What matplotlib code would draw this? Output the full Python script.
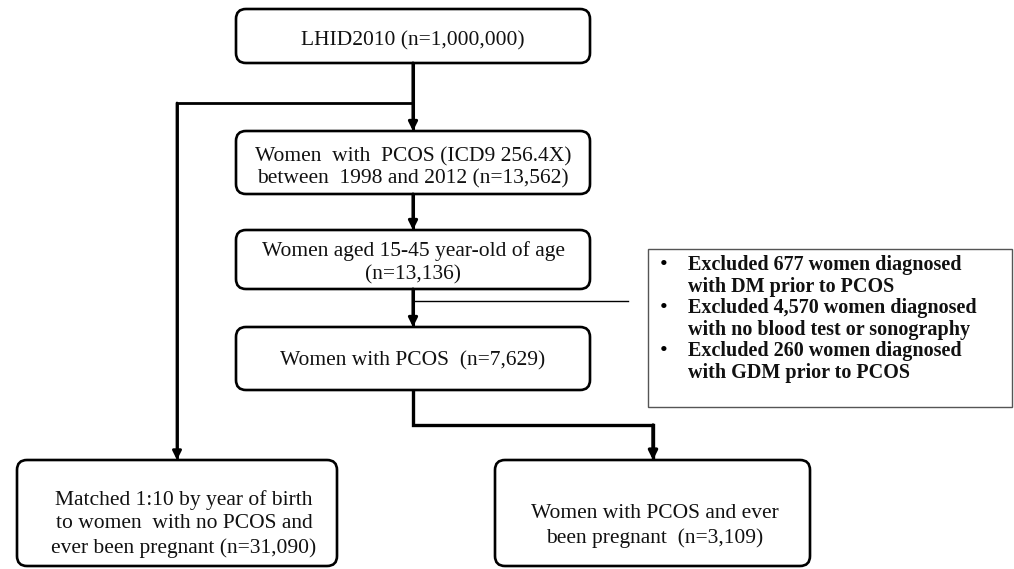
import matplotlib.pyplot as plt
from matplotlib.patches import FancyBboxPatch, Rectangle

# box texts (top to bottom)
box_texts = [
    "LHID2010 (n=1,000,000)",
    "Women  with  PCOS (ICD9 256.4X)\nbetween  1998 and 2012 (n=13,562)",
    "Women aged 15-45 year-old of age\n(n=13,136)",
    "Women with PCOS  (n=7,629)",
    "Matched 1:10 by year of birth\nto women  with no PCOS and\never been pregnant (n=31,090)",
    "Women with PCOS and ever\nbeen pregnant  (n=3,109)",
]
excluded_lines = [
    ("Excluded 677 women diagnosed", "with DM prior to PCOS"),
    ("Excluded 4,570 women diagnosed", "with no blood test or sonography"),
    ("Excluded 260 women diagnosed", "with GDM prior to PCOS"),
]

# layout in pixel coordinates: (x0, y0, x1, y1), text center, line spacing
boxes = [
    (236, 9, 590, 63),
    (236, 131, 590, 194),
    (236, 230, 590, 289),
    (236, 327, 590, 390),
    (17, 460, 337, 566),
    (495, 460, 810, 566),
]
text_pos = [(413, 41), (413, 168), (413, 263), (413, 361), (184, 524), (655, 526)]
spacing = [1.2, 1.22, 1.28, 1.2, 1.3, 1.32]

W, H = 1014, 569
fig = plt.figure(figsize=(W / 100, H / 100), dpi=100)
ax = fig.add_axes([0, 0, 1, 1])
ax.set_xlim(0, W)
ax.set_ylim(H, 0)
ax.axis("off")

font = dict(family="Liberation Serif", fontsize=15.5, color="#111111")

for (x0, y0, x1, y1), txt, (tx, ty), ls in zip(boxes, box_texts, text_pos, spacing):
    ax.add_patch(FancyBboxPatch((x0 + 10, y0 + 10), x1 - x0 - 20, y1 - y0 - 20,
                                boxstyle="round,pad=10", fc="white", ec="black", lw=1.9))
    ax.text(tx, ty, txt, ha="center", va="center", linespacing=ls, **font)

# exclusion box
ax.add_patch(Rectangle((648, 249), 364, 158, fc="white", ec="#555555", lw=1.0))
y = 265
for first, second in excluded_lines:
    ax.text(664, y, "\u2022", ha="center", va="center", fontsize=16, family="Liberation Serif")
    ax.text(688, y, first, ha="left", va="center", fontweight="bold",
            **{**font, "fontsize": 14.5})
    ax.text(688, y + 21.5, second, ha="left", va="center", fontweight="bold",
            **{**font, "fontsize": 14.5})
    y += 43

arrow = dict(arrowstyle="-|>", color="black", lw=2.2, mutation_scale=13, shrinkA=0, shrinkB=0)


def connect(points, lw=2.2):
    xs, ys_ = zip(*points)
    ax.plot(xs, ys_, color="black", lw=lw, solid_capstyle="butt", solid_joinstyle="miter")
    ax.annotate("", xy=points[-1], xytext=points[-2], arrowprops={**arrow, "lw": lw})


cx = 413
connect([(cx, 63), (cx, 131)])
connect([(cx, 103), (177, 103), (177, 460)], lw=2.0)
connect([(cx, 194), (cx, 230)])
connect([(cx, 289), (cx, 327)])
ax.plot([cx, 628], [301, 301], color="black", lw=1.0)
connect([(cx, 390), (cx, 425), (653, 425), (653, 460)], lw=2.4)

fig.savefig("out.png", dpi=100)
